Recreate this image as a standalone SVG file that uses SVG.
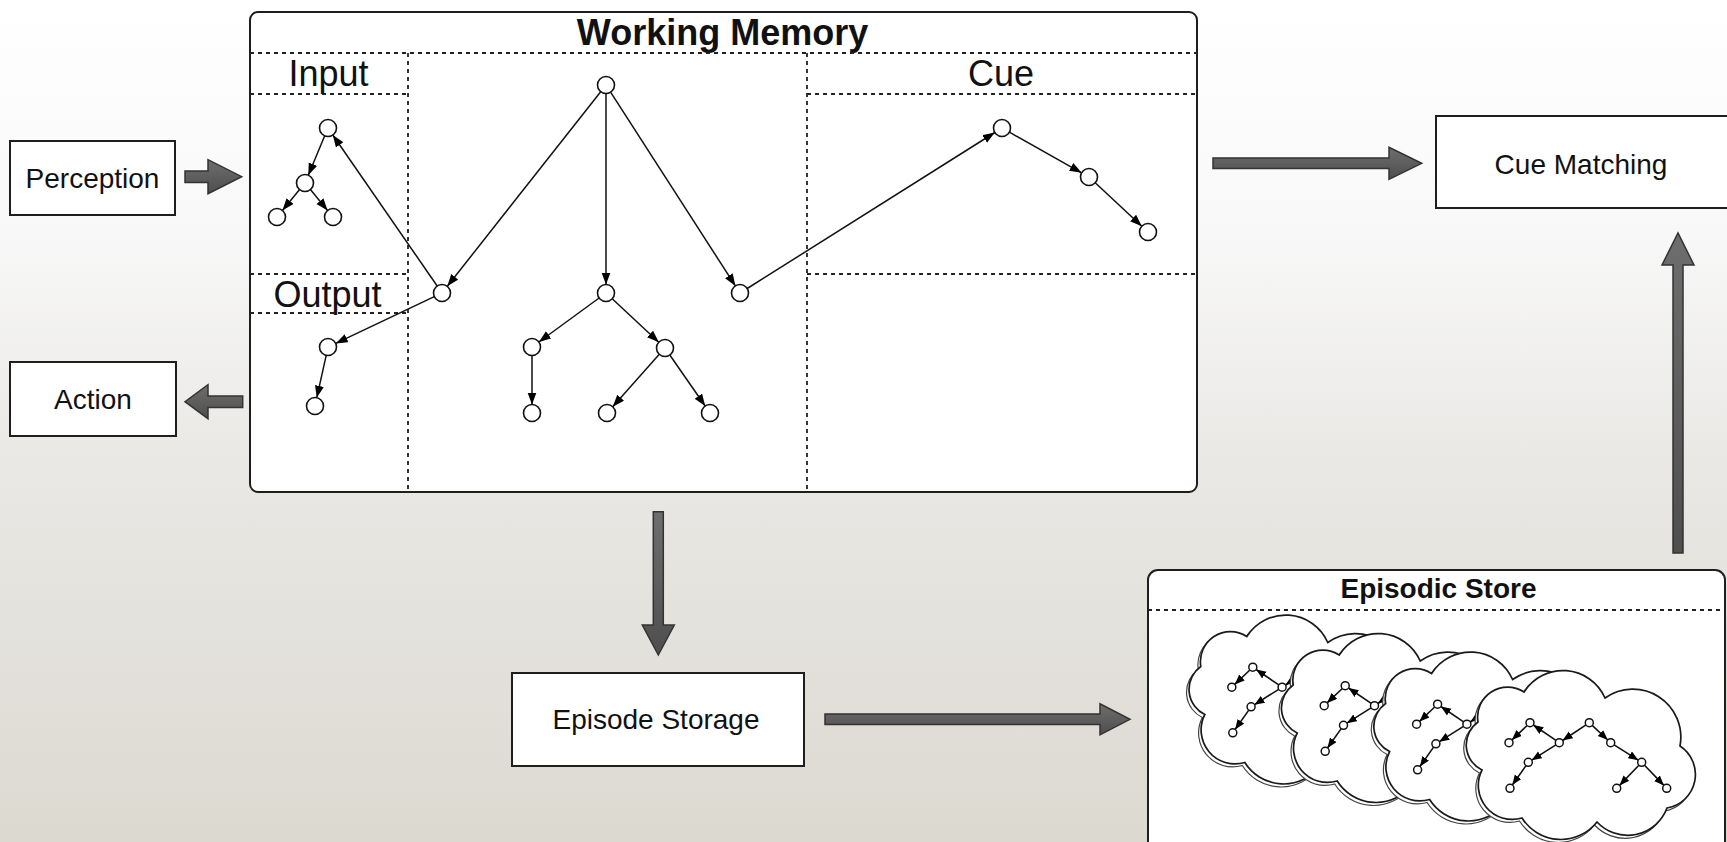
<svg xmlns="http://www.w3.org/2000/svg" xmlns:xlink="http://www.w3.org/1999/xlink" width="1727" height="842" viewBox="0 0 1727 842">
<defs>
<linearGradient id="bg" x1="0" y1="0" x2="0" y2="1">
<stop offset="0" stop-color="#ffffff"/>
<stop offset="0.28" stop-color="#f8f8f8"/>
<stop offset="0.55" stop-color="#e9e8e5"/>
<stop offset="1" stop-color="#dcd9d0"/>
</linearGradient>
<linearGradient id="fat" x1="0" y1="0" x2="0" y2="1">
<stop offset="0" stop-color="#6e6e6e"/>
<stop offset="1" stop-color="#4e4e4e"/>
</linearGradient>
<marker id="ah" markerUnits="userSpaceOnUse" markerWidth="13" markerHeight="10" refX="12" refY="4.5" orient="auto">
<path d="M0,0 L12,4.5 L0,9 z" fill="#000"/>
</marker>
<marker id="ahs" markerUnits="userSpaceOnUse" markerWidth="11" markerHeight="9" refX="10" refY="4" orient="auto">
<path d="M0,0 L10,4 L0,8 z" fill="#000"/>
</marker>
<path id="cloudShape" d="M20,100 A28 28 0 0 1 16,52 A30 30 0 0 1 62,22 A46 46 0 0 1 143,28 A48 48 0 0 1 218,76 A34 34 0 0 1 205,138 A42 42 0 0 1 135,152 A46 46 0 0 1 60,148 A34 34 0 0 1 20,100 Z"/>
<g id="cloudTree">
<g class="cl">
<line x1="65.1" y1="55.5" x2="49.9" y2="69.9"/>
<line x1="94.0" y1="70.4" x2="71.3" y2="55.0"/>
<line x1="93.9" y1="74.8" x2="69.7" y2="90.2"/>
<line x1="64.0" y1="95.6" x2="50.3" y2="115.0"/>
<line x1="124.0" y1="54.9" x2="100.6" y2="70.5"/>
<line x1="130.2" y1="55.4" x2="145.8" y2="70.0"/>
<line x1="152.1" y1="74.8" x2="176.3" y2="90.2"/>
<line x1="176.9" y1="95.2" x2="157.5" y2="115.4"/>
<line x1="182.5" y1="95.2" x2="201.9" y2="115.4"/>
</g>
<g class="cn">
<circle cx="68" cy="52.7" r="4"/>
<circle cx="47" cy="72.7" r="4"/>
<circle cx="97.3" cy="72.7" r="4"/>
<circle cx="66.3" cy="92.3" r="4"/>
<circle cx="48" cy="118.3" r="4"/>
<circle cx="127.3" cy="52.7" r="4"/>
<circle cx="148.7" cy="72.7" r="4"/>
<circle cx="179.7" cy="92.3" r="4"/>
<circle cx="154.7" cy="118.3" r="4"/>
<circle cx="204.7" cy="118.3" r="4"/>
</g>
</g>
</defs>
<style>
.box{fill:#fff;stroke:#1e1e1e;stroke-width:2}
.lbl{font-family:"Liberation Sans",Arial,Helvetica,sans-serif;font-size:28px;fill:#111;text-anchor:middle}
.hdr{font-family:"Liberation Sans",Arial,Helvetica,sans-serif;font-size:36px;fill:#111;text-anchor:middle}
.ttl{font-family:"Liberation Sans",Arial,Helvetica,sans-serif;font-weight:bold;fill:#111;text-anchor:middle}
.dot{stroke:#222;stroke-width:1.8;stroke-dasharray:4 4;fill:none}
.node{fill:#fff;stroke:#111;stroke-width:1.6}
.edge{stroke:#111;stroke-width:1.5;fill:none;marker-end:url(#ah)}
.fat{fill:url(#fat);stroke:#333;stroke-width:1.5;stroke-linejoin:miter}
.cloud{fill:#fff;stroke:#1a1a1a;stroke-width:1.7}
.cshadow{fill:#fff;stroke:#444;stroke-width:1.2}
.cl line{stroke:#111;stroke-width:1.6;marker-end:url(#ahs)}
.cn circle{fill:#fff;stroke:#111;stroke-width:1.5}
</style>
<rect x="0" y="0" width="1727" height="842" fill="url(#bg)"/>

<g id="working-memory">
<rect class="box" x="250" y="12" width="947" height="480" rx="8"/>
<text class="ttl" x="722.5" y="45" font-size="36">Working Memory</text>
<line class="dot" x1="250" y1="53" x2="1197" y2="53"/>
<line class="dot" x1="408" y1="53" x2="408" y2="492"/>
<line class="dot" x1="807" y1="53" x2="807" y2="492"/>
<line class="dot" x1="250" y1="94" x2="408" y2="94"/>
<line class="dot" x1="250" y1="274" x2="408" y2="274"/>
<line class="dot" x1="250" y1="313" x2="408" y2="313"/>
<line class="dot" x1="807" y1="94" x2="1197" y2="94"/>
<line class="dot" x1="807" y1="274" x2="1197" y2="274"/>
<text class="hdr" x="328.5" y="86">Input</text>
<text class="hdr" x="327.5" y="307">Output</text>
<text class="hdr" x="1001" y="86">Cue</text>
</g>

<g id="wm-edges">
<line class="edge" x1="324.7" y1="135.8" x2="308.3" y2="175.2"/>
<line class="edge" x1="299.6" y1="189.6" x2="282.4" y2="210.4"/>
<line class="edge" x1="310.4" y1="189.6" x2="327.6" y2="210.4"/>
<line class="edge" x1="437.2" y1="286.0" x2="332.8" y2="135.0"/>
<line class="edge" x1="600.7" y1="91.7" x2="447.3" y2="286.3"/>
<line class="edge" x1="606" y1="93.5" x2="606" y2="284.5"/>
<line class="edge" x1="610.6" y1="92.1" x2="735.4" y2="285.9"/>
<line class="edge" x1="747.2" y1="288.5" x2="994.8" y2="132.5"/>
<line class="edge" x1="1009.4" y1="132.2" x2="1081.6" y2="172.8"/>
<line class="edge" x1="1095.2" y1="182.8" x2="1141.8" y2="226.2"/>
<line class="edge" x1="434.3" y1="296.6" x2="335.7" y2="343.4"/>
<line class="edge" x1="326.2" y1="355.3" x2="316.8" y2="397.7"/>
<line class="edge" x1="599.1" y1="298.0" x2="538.9" y2="342.0"/>
<line class="edge" x1="612.2" y1="298.8" x2="658.8" y2="342.2"/>
<line class="edge" x1="532" y1="355.5" x2="532" y2="404.5"/>
<line class="edge" x1="659.3" y1="354.3" x2="612.7" y2="406.7"/>
<line class="edge" x1="669.8" y1="355.0" x2="705.2" y2="406.0"/>
</g>

<g id="wm-nodes">
<circle class="node" cx="328" cy="128" r="8.5"/>
<circle class="node" cx="305" cy="183" r="8.5"/>
<circle class="node" cx="277" cy="217" r="8.5"/>
<circle class="node" cx="333" cy="217" r="8.5"/>
<circle class="node" cx="606" cy="85" r="8.5"/>
<circle class="node" cx="442" cy="293" r="8.5"/>
<circle class="node" cx="606" cy="293" r="8.5"/>
<circle class="node" cx="740" cy="293" r="8.5"/>
<circle class="node" cx="532" cy="347" r="8.5"/>
<circle class="node" cx="665" cy="348" r="8.5"/>
<circle class="node" cx="532" cy="413" r="8.5"/>
<circle class="node" cx="607" cy="413" r="8.5"/>
<circle class="node" cx="710" cy="413" r="8.5"/>
<circle class="node" cx="328" cy="347" r="8.5"/>
<circle class="node" cx="315" cy="406" r="8.5"/>
<circle class="node" cx="1002" cy="128" r="8.5"/>
<circle class="node" cx="1089" cy="177" r="8.5"/>
<circle class="node" cx="1148" cy="232" r="8.5"/>
</g>

<g id="perception">
<rect class="box" x="10" y="141" width="165" height="74"/>
<text class="lbl" x="92.5" y="188">Perception</text>
</g>

<g id="action">
<rect class="box" x="10" y="362" width="166" height="74"/>
<text class="lbl" x="93" y="409">Action</text>
</g>

<g id="cue-matching">
<rect class="box" x="1436" y="116" width="300" height="92"/>
<text class="lbl" x="1581" y="174">Cue Matching</text>
</g>

<g id="episode-storage">
<rect class="box" x="512" y="673" width="292" height="93"/>
<text class="lbl" x="656" y="729">Episode Storage</text>
</g>

<g id="episodic-store">
<rect class="box" x="1148" y="570" width="577" height="290" rx="10"/>
<text class="ttl" x="1438.5" y="598" font-size="28">Episodic Store</text>
<line class="dot" x1="1148" y1="610" x2="1725" y2="610"/>
<g transform="translate(1184.8,614.5)">
<use xlink:href="#cloudShape" href="#cloudShape" class="cshadow" transform="translate(-2.5,3)"/>
<use xlink:href="#cloudShape" href="#cloudShape" class="cloud"/>
<use xlink:href="#cloudTree" href="#cloudTree"/>
</g>
<g transform="translate(1277.2,633)">
<use xlink:href="#cloudShape" href="#cloudShape" class="cshadow" transform="translate(-2.5,3)"/>
<use xlink:href="#cloudShape" href="#cloudShape" class="cloud"/>
<use xlink:href="#cloudTree" href="#cloudTree"/>
</g>
<g transform="translate(1369.6,651.5)">
<use xlink:href="#cloudShape" href="#cloudShape" class="cshadow" transform="translate(-2.5,3)"/>
<use xlink:href="#cloudShape" href="#cloudShape" class="cloud"/>
<use xlink:href="#cloudTree" href="#cloudTree"/>
</g>
<g transform="translate(1462,670)">
<use xlink:href="#cloudShape" href="#cloudShape" class="cshadow" transform="translate(-2.5,3)"/>
<use xlink:href="#cloudShape" href="#cloudShape" class="cloud"/>
<use xlink:href="#cloudTree" href="#cloudTree"/>
</g>
</g>

<g id="connectors">
<polygon class="fat" points="185,171 208,171 208,159.7 241.7,176.7 208,193.7 208,182.4 185,182.4"/>
<polygon class="fat" points="242.7,396 208,396 208,384.7 185,401.7 208,418.7 208,407.4 242.7,407.4"/>
<polygon class="fat" points="1213,158 1389,158 1389,147.3 1421.7,163.3 1389,179.3 1389,168.6 1213,168.6"/>
<polygon class="fat" points="653.3,511.7 663.3,511.7 663.3,625 674.3,625 658.3,655 642.3,625 653.3,625"/>
<polygon class="fat" points="825,714 1100,714 1100,703.8 1130,719.3 1100,734.8 1100,724.6 825,724.6"/>
<polygon class="fat" points="1673,553 1673,265 1662,265 1678,233 1694,265 1683,265 1683,553"/>
</g>
</svg>
